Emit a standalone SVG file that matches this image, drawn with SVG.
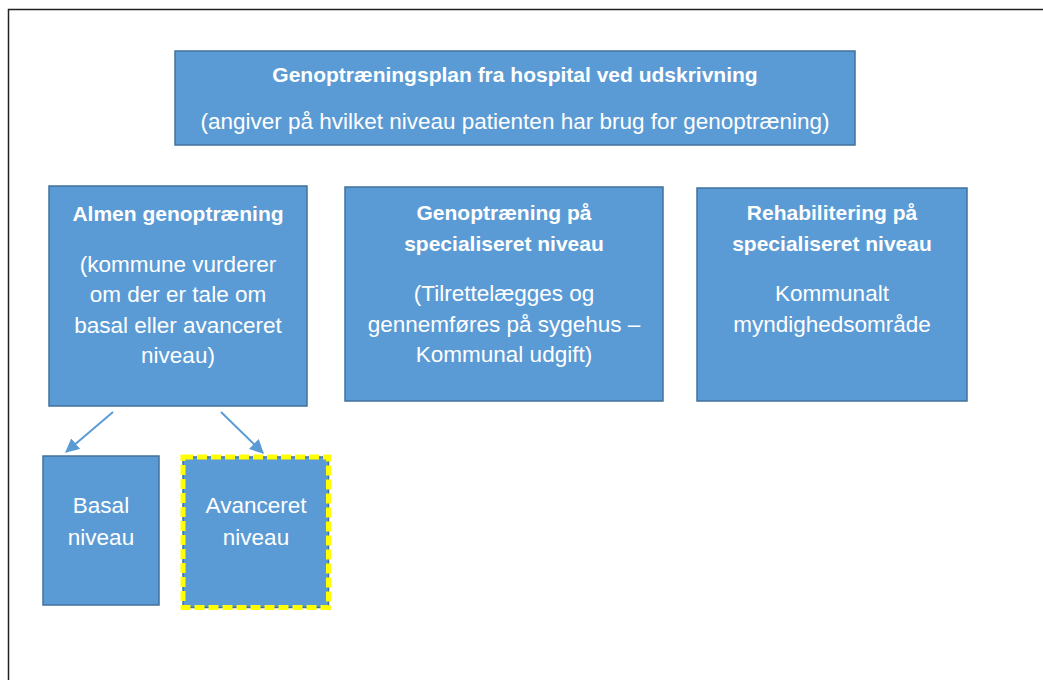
<svg xmlns="http://www.w3.org/2000/svg" width="1043" height="680" viewBox="0 0 1043 680">
<defs>
<style>
.box{fill:#5B9BD5;stroke:#41719C;stroke-width:1.5}
.b{font-family:"Liberation Sans",Arial,sans-serif;font-weight:bold;font-size:21px;fill:#fff;text-anchor:middle}
.r{font-family:"Liberation Sans",Arial,sans-serif;font-size:22.5px;fill:#fff;text-anchor:middle}
.conn{stroke:#5B9BD5;stroke-width:2;fill:none}
</style>
<marker id="ah2" viewBox="0 0 12 12" refX="11" refY="6" markerWidth="14" markerHeight="14" markerUnits="userSpaceOnUse" orient="auto">
<path d="M0,0 L12,6 L0,12 z" fill="#5B9BD5"/>
</marker>
</defs>
<rect width="1043" height="680" fill="#fff"/>
<path d="M8.5,680 V9.5 H1043" fill="none" stroke="#222" stroke-width="1.5"/>

<g id="top">
<rect class="box" x="175" y="51" width="680" height="94"/>
<text class="b" x="515" y="82">Genoptræningsplan fra hospital ved udskrivning</text>
<text class="r" x="515" y="129">(angiver på hvilket niveau patienten har brug for genoptræning)</text>
</g>

<g id="almen">
<rect class="box" x="49" y="186" width="258" height="220"/>
<text class="b" x="178" y="221">Almen genoptræning</text>
<text class="r" x="178" y="272">(kommune vurderer</text>
<text class="r" x="178" y="302">om der er tale om</text>
<text class="r" x="178" y="333">basal eller avanceret</text>
<text class="r" x="178" y="363">niveau)</text>
</g>

<g id="specialiseret">
<rect class="box" x="345" y="187" width="318" height="214"/>
<text class="b" x="504" y="220">Genoptræning på</text>
<text class="b" x="504" y="251">specialiseret niveau</text>
<text class="r" x="504" y="301">(Tilrettelægges og</text>
<text class="r" x="504" y="332">gennemføres på sygehus –</text>
<text class="r" x="504" y="362">Kommunal udgift)</text>
</g>

<g id="rehabilitering">
<rect class="box" x="697" y="188" width="270" height="213"/>
<text class="b" x="832" y="220">Rehabilitering på</text>
<text class="b" x="832" y="251">specialiseret niveau</text>
<text class="r" x="832" y="301">Kommunalt</text>
<text class="r" x="832" y="332">myndighedsområde</text>
</g>

<g id="basal">
<rect class="box" x="43" y="456" width="116" height="149"/>
<text class="r" x="101" y="513">Basal</text>
<text class="r" x="101" y="545">niveau</text>
</g>

<g id="avanceret">
<rect class="box" x="183" y="457" width="145.5" height="150.5"/>
<rect x="183" y="457" width="145.5" height="150.5" fill="none" stroke="#FFFF00" stroke-width="5" stroke-dasharray="10 4"/>
<text class="r" x="256" y="513">Avanceret</text>
<text class="r" x="256" y="545">niveau</text>
</g>

<g id="connectors">
<line class="conn" x1="113" y1="412" x2="66" y2="452" marker-end="url(#ah2)"/>
<line class="conn" x1="221" y1="412" x2="263" y2="453" marker-end="url(#ah2)"/>
</g>
</svg>
